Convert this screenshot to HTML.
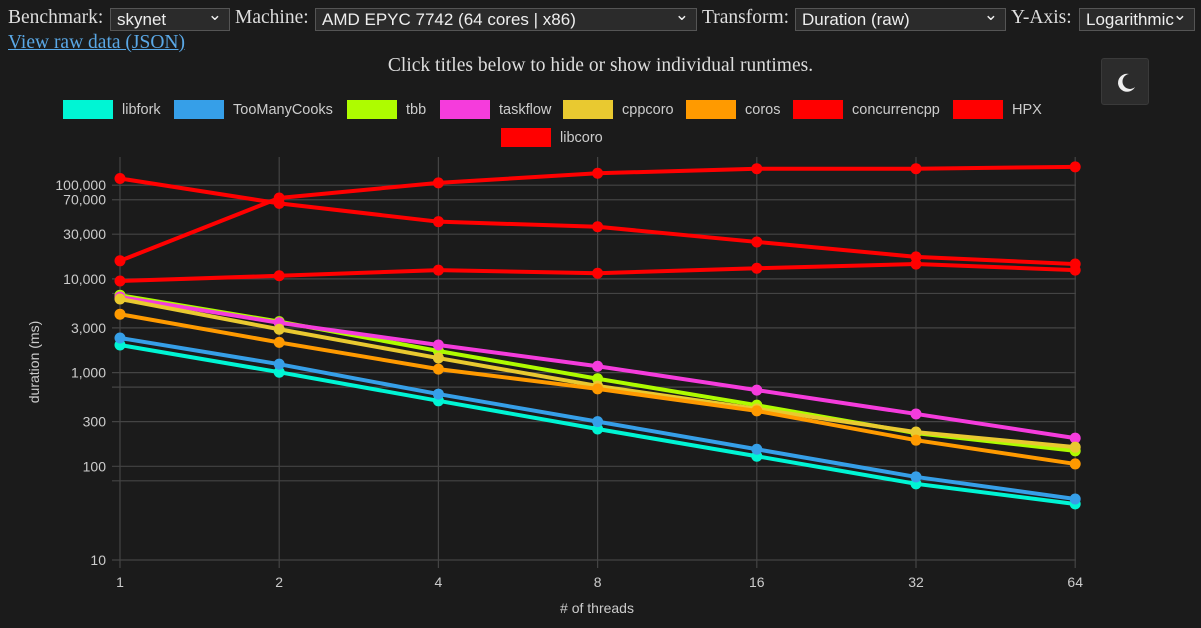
<!DOCTYPE html>
<html><head><meta charset="utf-8"><style>
body{margin:0;background:#1b1b1b;width:1201px;height:628px;overflow:hidden;font-family:"Liberation Serif",serif;color:#ddd;position:relative}
.lbl{position:absolute;top:7px;font-size:19.5px;white-space:nowrap}
.sel{position:absolute;top:8px;height:23px;border:1px solid #555;background:#2b2b2b;color:#eee;font:17px "Liberation Sans",sans-serif;padding:0 6px;box-sizing:border-box;line-height:21px;white-space:nowrap}
.sel:after{content:"⌄";position:absolute;right:7px;top:-5px;font-size:17px}
a{position:absolute;left:8px;top:32px;color:#5aa8e6;font-size:19.5px}
.note{position:absolute;left:0;width:1201px;text-align:center;top:55px;font-size:19.5px}
.moon{position:absolute;left:1101px;top:58px;width:48px;height:47px;background:#2c2c2c;border:1px solid #3a3a3a;border-radius:3px;box-sizing:border-box}
</style></head><body>
<div>
<span class="lbl" style="left:8px">Benchmark:</span>
<span class="sel" style="left:110px;width:120px">skynet</span>
<span class="lbl" style="left:235px">Machine:</span>
<span class="sel" style="left:315px;width:382px">AMD EPYC 7742 (64 cores | x86)</span>
<span class="lbl" style="left:702px">Transform:</span>
<span class="sel" style="left:795px;width:211px">Duration (raw)</span>
<span class="lbl" style="left:1011px">Y-Axis:</span>
<span class="sel" style="left:1079px;width:116px">Logarithmic</span>
</div>
<a href="#">View raw data (JSON)</a>
<div class="note">Click titles below to hide or show individual runtimes.</div>
<div class="moon"><svg width="46" height="45"><path d="M27 15a9 9 0 1 0 6 13a7.5 7.5 0 1 1 -6 -13z" fill="#eee"/></svg></div>
<svg id="chart" width="1201" height="628" style="position:absolute;left:0;top:0" font-family="Liberation Sans, sans-serif"></svg>
<script>
const categories=[1,2,4,8,16,32,64];
const seriesNames=["libfork","TooManyCooks","tbb","taskflow","cppcoro","coros","concurrencpp","HPX","libcoro"];
const colors=["#00f5d4","#369fe8","#aefc00","#f53cdc","#e9c930","#ff9a00","#ff0000","#ff0000","#ff0000"];
const libfork=[1970,1010,500,250,128,65,39.6];
const tooManyCooks=[2340,1230,590,300,152,77,44.8];
const tbb=[6700,3500,1700,860,449,226,146];
const taskflow=[6400,3400,1970,1170,650,362,200];
const cppcoro=[6100,2900,1430,720,410,232,160];
const coros=[4200,2100,1090,670,390,190,106];
const concurrencpp=[118000,64000,40800,36000,24800,17200,14400];
const hpx=[15600,73000,106000,134000,150000,150000,157000];
const libcoro=[9500,10800,12400,11500,13000,14400,12400];
const seriesValues=[libfork,tooManyCooks,tbb,taskflow,cppcoro,coros,concurrencpp,hpx,libcoro];
const gridValues=[10,70,100,300,700,1000,3000,7000,10000,30000,70000,100000];
const tickLabels={10:"10",100:"100",300:"300",1000:"1,000",3000:"3,000",10000:"10,000",30000:"30,000",70000:"70,000",100000:"100,000"};
const svg=document.getElementById('chart');const NS="http://www.w3.org/2000/svg";
function mk(t,a,p){const e=document.createElementNS(NS,t);for(const k in a)e.setAttribute(k,a[k]);(p||svg).appendChild(e);return e;}
const X=i=>120+i*159.2;
const Y=v=>560-93.7*Math.log10(v/10);
const g=mk('g',{});


gridValues.forEach(v=>{mk('line',{x1:112,x2:1076,y1:Y(v),y2:Y(v),stroke:'#444','stroke-width':1.2},g);
 if(tickLabels[v]){const t=mk('text',{x:106,y:Y(v)+5,'text-anchor':'end','font-size':14,fill:'#ccc'});t.textContent=tickLabels[v];
 
 }});
categories.forEach((c,i)=>{mk('line',{x1:X(i),x2:X(i),y1:157,y2:568,stroke:'#444','stroke-width':1.2},g);
 const t=mk('text',{x:X(i),y:587,'text-anchor':'middle','font-size':14,fill:'#ccc'});t.textContent=c;
 
 });
let t=mk('text',{x:597,y:613,'text-anchor':'middle','font-size':14,fill:'#ccc'});t.textContent="# of threads";


t=mk('text',{x:0,y:0,transform:'translate(39,362) rotate(-90)','text-anchor':'middle','font-size':14,fill:'#ccc'});t.textContent="duration (ms)";


const legX=[63,174,347,440,563,686,793,953,501],legY=[109,109,109,109,109,109,109,109,137];
seriesNames.forEach((n,i)=>{const lg=mk('g',{});
 
 
 mk('rect',{x:legX[i],y:legY[i]-9,width:50,height:19,fill:colors[i]},lg);
 const tt=mk('text',{x:legX[i]+59,y:legY[i]+5,'font-size':14.5,fill:'#ccc'},lg);tt.textContent=n;});
seriesValues.forEach((vals,s)=>{const sg=mk('g',{});
 
 
 mk('polyline',{points:vals.map((v,i)=>X(i)+','+Y(v)).join(' '),fill:'none',stroke:colors[s],'stroke-width':4},sg);
 vals.forEach((v,i)=>{const c=mk('circle',{cx:X(i),cy:Y(v),r:5.5,fill:colors[s]},sg);
 
 });});
</script>
</body></html>
